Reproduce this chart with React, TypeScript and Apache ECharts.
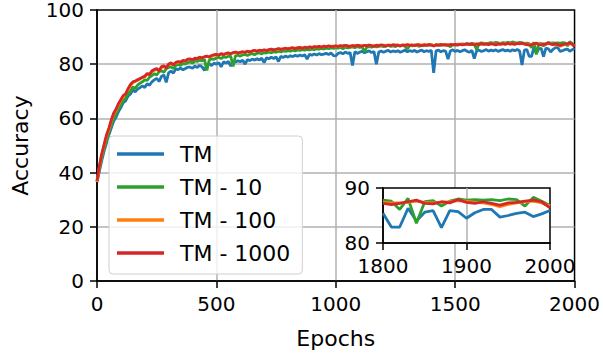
import React, { useEffect, useRef } from "react";
import * as echarts from "echarts";

const SERIES_NAMES = ["TM", "TM - 10", "TM - 100", "TM - 1000"];
const COLORS = ["#1f77b4", "#2ca02c", "#ff7f0e", "#d62728"];
const EPOCH_STEP = 10;
const INSET_START = 1800;

// Accuracy every 10 epochs, epochs 0..2000
const ACC_TM = [
  36.5, 40.5, 44.5, 48.0, 51.0, 54.0, 56.5, 59.0, 60.5, 62.5,
  64.0, 65.8, 66.5, 68.2, 69.0, 70.5, 69.8, 70.8, 71.3, 72.0,
  71.4, 72.8, 72.2, 73.5, 74.2, 74.8, 73.6, 75.5, 76.0, 73.3,
  76.8, 77.5, 76.7, 78.3, 78.0, 78.6, 77.9, 78.4, 78.9, 78.9,
  78.5, 79.3, 78.8, 79.6, 79.0, 77.7, 79.8, 80.2, 79.5, 80.4,
  80.0, 80.6, 79.0, 80.9, 80.4, 81.0, 79.3, 81.2, 80.8, 81.3,
  80.9, 81.5, 80.0, 81.7, 81.3, 81.9, 81.5, 82.0, 81.6, 82.2,
  80.6, 82.4, 82.0, 82.6, 82.1, 82.7, 81.0, 82.9, 82.5, 83.0,
  82.6, 83.1, 82.8, 83.3, 82.9, 83.4, 83.0, 83.5, 81.9, 83.7,
  83.3, 83.8, 83.4, 83.9, 83.5, 83.7, 84.0, 83.6, 84.1, 83.2,
  83.1, 84.0, 84.3, 83.8, 84.5, 84.0, 84.3, 79.5, 84.6, 84.0,
  84.4, 84.8, 84.2, 84.6, 84.9, 84.3, 84.7, 80.0, 84.5, 84.9,
  84.4, 84.8, 85.1, 84.5, 84.9, 84.6, 85.0, 84.4, 84.8, 85.2,
  84.6, 85.0, 84.7, 85.1, 84.5, 84.9, 85.2, 84.6, 85.0, 84.7,
  85.1, 76.8, 84.9, 85.2, 84.6, 85.0, 84.8, 81.9, 84.9, 85.3,
  84.7, 85.1, 84.6, 85.0, 85.3, 84.8, 84.4, 85.1, 82.1, 84.9,
  85.2, 84.7, 85.0, 85.4, 84.8, 85.2, 84.9, 85.3, 84.7, 85.1,
  85.4, 84.9, 85.2, 84.8, 85.3, 85.0, 85.4, 84.9, 79.7, 85.2,
  85.4, 82.9, 82.9, 86.3, 84.0, 85.6, 85.9, 82.8, 85.9, 85.7,
  84.5, 85.5, 86.1, 86.1, 84.7, 85.0, 85.4, 85.6, 84.8, 85.3, 85.9,
];

const ACC_TM10 = [
  36.8, 41.5, 45.5, 49.0, 52.0, 55.0, 57.5, 60.0, 61.8, 63.5,
  65.0, 66.5, 67.5, 69.0, 70.0, 71.6, 71.0, 72.3, 73.0, 73.5,
  74.2, 74.0, 75.2, 75.8, 76.5, 76.0, 77.2, 77.6, 77.0, 78.3,
  78.8, 79.0, 78.4, 79.5, 79.9, 79.5, 80.3, 80.0, 80.6, 80.9,
  80.4, 81.2, 81.0, 81.5, 81.2, 81.8, 77.7, 81.5, 82.0, 81.8,
  82.3, 82.5, 82.1, 82.7, 82.5, 82.9, 83.0, 79.2, 83.1, 83.3,
  83.0, 83.4, 83.6, 83.2, 83.7, 83.9, 83.5, 84.0, 84.2, 83.8,
  84.3, 84.1, 84.5, 84.2, 84.6, 84.4, 84.8, 84.5, 84.9, 84.7,
  85.0, 84.8, 85.2, 84.9, 85.3, 85.1, 85.4, 85.2, 85.5, 85.3,
  85.6, 85.4, 85.7, 85.5, 85.8, 85.6, 85.9, 85.7, 86.0, 85.8,
  86.1, 85.9, 86.2, 85.7, 86.3, 86.0, 86.2, 86.4, 86.1, 86.5,
  86.2, 86.4, 84.6, 86.3, 86.5, 86.3, 86.7, 86.4, 86.6, 86.8,
  86.5, 86.7, 86.9, 86.6, 86.8, 86.5, 86.9, 86.7, 87.0, 86.6,
  85.6, 87.0, 86.7, 87.1, 86.9, 86.6, 87.0, 86.8, 87.1, 86.9,
  87.2, 86.8, 87.0, 87.2, 86.9, 87.3, 87.0, 87.1, 86.4, 87.3,
  87.0, 87.4, 87.2, 87.5, 87.3, 87.6, 87.4, 87.7, 87.5, 85.3,
  87.6, 87.9, 87.7, 87.5, 87.8, 88.0, 87.7, 88.1, 87.9, 87.6,
  88.0, 87.8, 88.1, 87.9, 88.2, 88.0, 87.8, 88.1, 87.9, 87.7,
  87.8, 87.6, 86.1, 88.1, 83.6, 87.5, 87.7, 86.7, 87.6, 88.0,
  87.8, 87.9, 87.8, 87.9, 87.7, 88.0, 87.9, 86.7, 88.3, 87.6, 86.8,
];

const ACC_TM100 = [
  36.5, 42.0, 46.5, 50.0, 53.5, 56.0, 59.0, 61.5, 63.0, 65.0,
  66.5, 68.0, 69.2, 70.6, 72.0, 73.2, 73.6, 74.0, 74.8, 75.0,
  75.3, 76.2, 76.5, 77.2, 77.8, 78.0, 77.9, 78.8, 79.0, 78.9,
  79.7, 80.2, 80.0, 80.4, 80.8, 80.9, 81.1, 81.3, 81.6, 81.8,
  81.7, 82.0, 82.2, 82.4, 82.5, 82.6, 82.8, 82.8, 83.0, 83.3,
  83.4, 83.5, 83.7, 83.7, 83.8, 84.0, 84.0, 84.1, 84.3, 84.2,
  84.3, 84.4, 84.5, 84.6, 84.6, 84.7, 84.9, 84.9, 85.0, 85.1,
  85.1, 85.2, 85.2, 85.4, 85.4, 85.4, 85.6, 85.6, 85.6, 85.8,
  85.8, 85.8, 85.9, 85.9, 86.1, 86.0, 86.0, 86.1, 86.2, 86.2,
  86.3, 86.3, 86.4, 86.4, 86.4, 86.5, 86.6, 86.6, 86.7, 86.7,
  86.6, 86.7, 86.7, 86.8, 86.8, 86.9, 86.7, 86.8, 86.8, 86.9,
  86.9, 86.8, 86.9, 86.9, 87.0, 86.9, 86.8, 86.9, 87.0, 87.0,
  87.0, 86.9, 87.0, 87.0, 87.0, 87.1, 87.1, 86.9, 87.0, 87.1,
  87.0, 87.1, 87.0, 87.0, 87.1, 87.2, 87.0, 87.1, 87.1, 87.2,
  87.2, 86.9, 87.1, 87.1, 87.2, 87.2, 87.1, 87.1, 87.2, 87.3,
  87.2, 87.2, 87.3, 87.3, 87.2, 87.4, 87.4, 87.3, 87.3, 87.4,
  87.4, 87.4, 87.5, 87.4, 87.4, 87.5, 87.5, 87.3, 87.4, 87.5,
  87.5, 87.5, 87.6, 87.6, 87.5, 87.5, 87.6, 87.6, 87.7, 87.6,
  87.4, 87.3, 87.3, 87.4, 87.6, 87.4, 87.3, 87.4, 87.5, 87.7,
  87.6, 87.4, 87.3, 87.0, 86.6, 87.0, 87.3, 87.5, 87.6, 87.3, 86.7,
];

const ACC_TM1000 = [
  37.0, 42.5, 47.0, 50.5, 54.0, 56.5, 59.5, 62.0, 63.5, 65.5,
  67.0, 68.5, 69.0, 71.0, 72.5, 73.5, 73.8, 74.3, 74.6, 75.2,
  75.6, 76.6, 76.1, 77.6, 78.0, 78.4, 77.5, 79.1, 79.4, 78.6,
  80.1, 80.5, 79.7, 80.7, 81.0, 80.7, 81.4, 81.1, 81.9, 82.0,
  81.5, 82.3, 82.0, 82.6, 82.3, 82.8, 83.0, 82.6, 83.2, 83.5,
  83.6, 83.3, 83.9, 83.5, 84.0, 84.2, 83.8, 84.3, 84.5, 84.1,
  84.4, 84.6, 84.3, 84.8, 84.5, 84.9, 85.1, 84.7, 85.2, 85.0,
  85.3, 85.0, 85.4, 85.6, 85.2, 85.5, 85.8, 85.4, 85.7, 85.9,
  85.6, 85.9, 86.1, 85.7, 86.0, 86.2, 85.8, 86.3, 86.0, 86.4,
  86.1, 86.5, 86.3, 86.6, 86.2, 86.7, 86.4, 86.8, 86.5, 86.6,
  86.8, 86.5, 86.9, 86.6, 87.0, 86.7, 86.5, 86.9, 86.6, 87.0,
  86.8, 86.6, 87.0, 86.7, 87.1, 86.8, 86.6, 87.0, 86.8, 87.1,
  86.9, 86.7, 87.1, 86.8, 87.2, 86.9, 87.0, 86.7, 87.1, 86.9,
  87.2, 86.9, 87.1, 86.8, 87.2, 87.0, 86.8, 87.2, 86.9, 87.3,
  87.0, 86.7, 87.2, 86.9, 87.3, 87.0, 87.2, 86.9, 87.3, 87.1,
  87.3, 87.0, 87.4, 87.1, 87.3, 87.5, 87.2, 87.4, 87.1, 87.5,
  87.2, 87.6, 87.3, 87.5, 87.2, 87.6, 87.4, 87.1, 87.5, 87.3,
  87.6, 87.3, 87.7, 87.4, 87.6, 87.3, 87.7, 87.5, 87.8, 87.4,
  87.2, 87.0, 87.2, 87.5, 87.8, 87.2, 87.1, 87.5, 87.3, 87.9,
  87.4, 87.2, 87.5, 87.2, 86.9, 87.3, 87.4, 87.6, 87.8, 87.5, 86.4,
];

const ALL_SERIES = [ACC_TM, ACC_TM10, ACC_TM100, ACC_TM1000];

const FONT = "DejaVu Sans";

export default function App() {
  const ref = useRef<HTMLDivElement>(null);

  useEffect(() => {
    if (!ref.current) return;
    const chart = echarts.init(ref.current, undefined, { renderer: "svg" });

    const toPairs = (vals: number[]) => vals.map((v, i) => [i * EPOCH_STEP, v]);

    const mainSeries = ALL_SERIES.map((vals, i) => ({
      type: "line",
      name: SERIES_NAMES[i],
      data: toPairs(vals),
      xAxisIndex: 0,
      yAxisIndex: 0,
      symbol: "none",
      showSymbol: false,
      lineStyle: { color: COLORS[i], width: 2.8 },
      itemStyle: { color: COLORS[i] },
      z: 2,
    }));

    const insetSeries = ALL_SERIES.map((vals, i) => ({
      type: "line",
      name: SERIES_NAMES[i],
      data: toPairs(vals).filter((p) => p[0] >= INSET_START),
      xAxisIndex: 1,
      yAxisIndex: 1,
      symbol: "none",
      showSymbol: false,
      lineStyle: { color: COLORS[i], width: 2.8 },
      itemStyle: { color: COLORS[i] },
      z: 22,
    }));

    const tickStyle = { show: true, inside: false, length: 7, lineStyle: { color: "#000", width: 1.5 } };
    const axisLineStyle = { show: true, lineStyle: { color: "#000", width: 1.5 } };
    const labelStyle = {
      color: "#000", fontSize: 20, fontFamily: FONT, margin: 13,
      formatter: (v: number) => String(v),
    };
    const splitStyle = { show: true, showMinLine: false, showMaxLine: false, lineStyle: { color: "#b0b0b0", width: 1.5 } };

    chart.setOption({
      animation: false,
      backgroundColor: "#fff",
      textStyle: { fontFamily: FONT },
      grid: [
        {
          left: 97, top: 10, width: 478, height: 276,
          show: true, borderColor: "#000", borderWidth: 1.5, backgroundColor: "transparent",
        },
        {
          left: 383, top: 188, width: 167, height: 55,
          show: true, borderColor: "#000", borderWidth: 1.5, backgroundColor: "#fff", z: 20,
        },
      ],
      legend: {
        data: SERIES_NAMES,
        orient: "vertical",
        left: 109,
        top: 136,
        icon: "rect",
        itemWidth: 47,
        itemHeight: 3.5,
        itemGap: 11,
        padding: [7, 12, 10, 8],
        backgroundColor: "rgba(255,255,255,0.8)",
        borderColor: "#d0d0d0",
        borderWidth: 1,
        borderRadius: 4,
        textStyle: { fontSize: 22, lineHeight: 22, color: "#000", fontFamily: FONT, padding: [0, 0, 0, 11] },
        z: 10,
      },
      xAxis: [
        {
          type: "value", gridIndex: 0, min: 0, max: 2000, interval: 500,
          axisLine: axisLineStyle, axisTick: tickStyle, axisLabel: labelStyle, splitLine: splitStyle,
          name: "Epochs", nameLocation: "middle", nameGap: 46,
          nameTextStyle: { fontSize: 22, color: "#000", fontFamily: FONT },
        },
        {
          type: "value", gridIndex: 1, min: 1800, max: 2000, interval: 100, z: 21,
          axisLine: axisLineStyle, axisTick: tickStyle, axisLabel: labelStyle, splitLine: splitStyle,
        },
      ],
      yAxis: [
        {
          type: "value", gridIndex: 0, min: 0, max: 100, interval: 20,
          axisLine: axisLineStyle, axisTick: tickStyle, axisLabel: labelStyle, splitLine: splitStyle,
          name: "Accuracy", nameLocation: "middle", nameGap: 66,
          nameTextStyle: { fontSize: 22, color: "#000", fontFamily: FONT },
        },
        {
          type: "value", gridIndex: 1, min: 80, max: 90, interval: 10, z: 21,
          axisLine: axisLineStyle, axisTick: tickStyle, axisLabel: labelStyle, splitLine: splitStyle,
        },
      ],
      series: [...mainSeries, ...insetSeries],
    });

    return () => chart.dispose();
  }, []);

  return <div ref={ref} style={{ width: 603, height: 354, position: "absolute", left: 0, top: 0 }} />;
}
